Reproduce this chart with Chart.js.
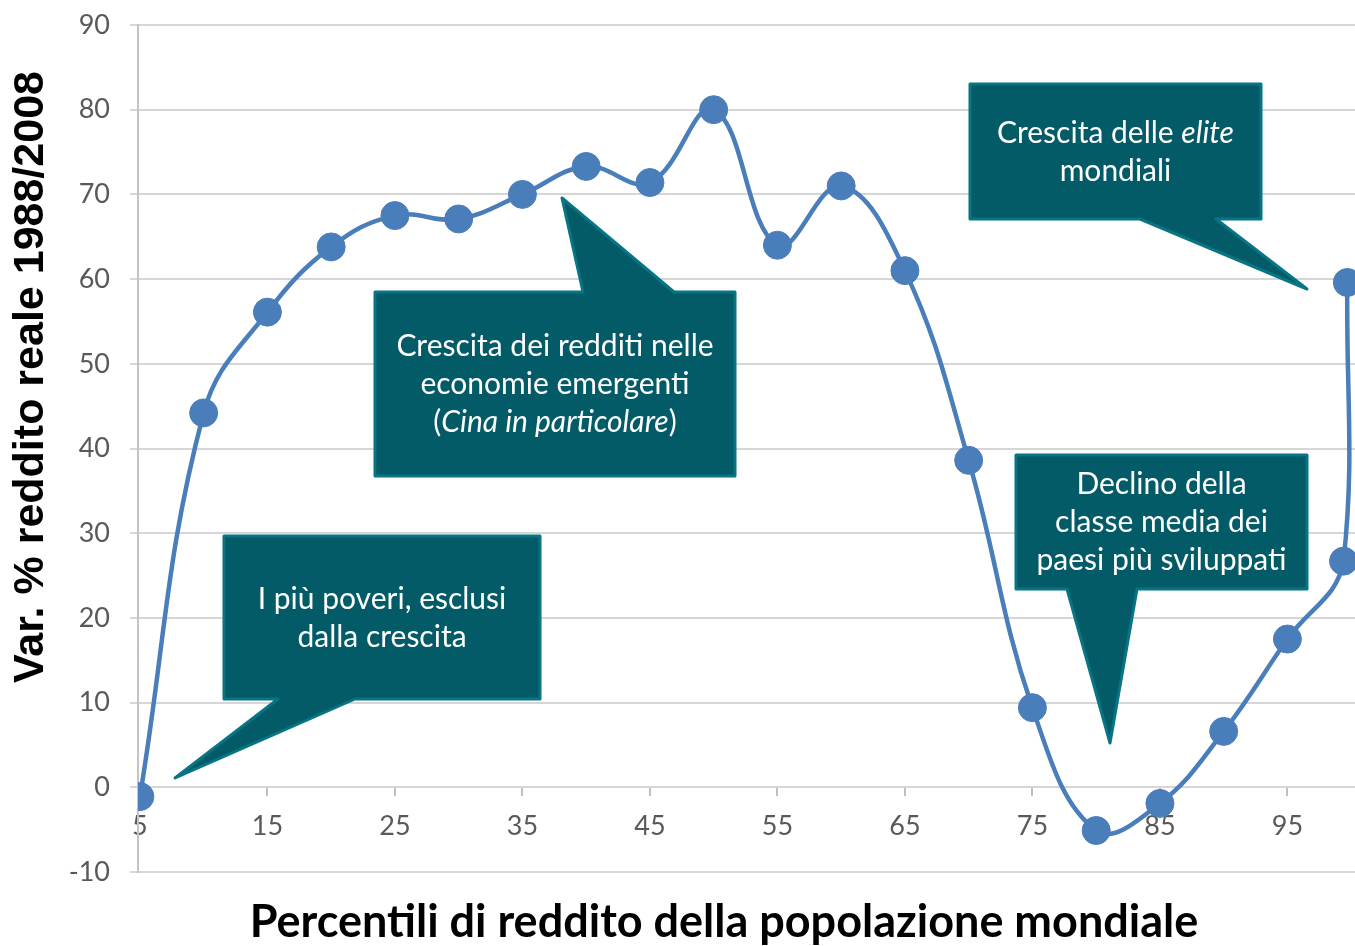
<!DOCTYPE html>
<html>
<head>
<meta charset="utf-8">
<script src="https://cdn.jsdelivr.net/npm/chart.js@4/dist/chart.umd.min.js"></script>
<style>
html, body { margin: 0; padding: 0; background: #fff; }
#wrap { width: 1355px; height: 946px; }
</style>
</head>
<body>
<div id="wrap"><canvas id="chart" width="1355" height="946"></canvas></div>
<script>
// percentili della distribuzione globale del reddito
const percentiles = [5, 10, 15, 20, 25, 30, 35, 40, 45, 50, 55, 60, 65, 70, 75, 80, 85, 90, 95, 99.4, 99.7];
// variazione % del reddito reale 1988-2008
const growth = [-1.1, 44.2, 56.1, 63.8, 67.5, 67.1, 70.0, 73.3, 71.4, 80.0, 64.0, 71.0, 61.0, 38.6, 9.4, -5.1, -1.9, 6.6, 17.5, 26.7, 59.6];
const xTicks = [5, 15, 25, 35, 45, 55, 65, 75, 85, 95];
const yMin = -10;
const yMax = 90;
const yStep = 10;

const xTitle = "Percentili di reddito della popolazione mondiale";
const yTitle = "Var. % reddito reale 1988/2008";

// callout: righe come pezzi [testo, corsivo]
const callouts = [
    {
        lines: [[["I più poveri, esclusi", false]], [["dalla crescita", false]]],
        box: [224, 536, 540, 699], side: "bottom", base: [278, 355], tip: [175, 778]
    },
    {
        lines: [[["Crescita dei redditi nelle", false]], [["economie emergenti", false]],
                [["(", false], ["Cina in particolare", true], [")", false]]],
        box: [375, 292, 735, 476], side: "top", base: [583, 674], tip: [562, 198]
    },
    {
        lines: [[["Crescita delle ", false], ["elite", true]], [["mondiali", false]]],
        box: [970, 84, 1261, 219], side: "bottom", base: [1140, 1216], tip: [1307, 289]
    },
    {
        lines: [[["Declino della", false]], [["classe media dei", false]], [["paesi più sviluppati", false]]],
        box: [1016, 455, 1307, 589], side: "bottom", base: [1067, 1137], tip: [1110, 743]
    }
];

const BLUE = "rgb(74,126,187)";
const GRID = "#d6d6d6";

const calloutPlugin = {
    id: "callouts",
    afterDraw(chart) {
        const ctx = chart.ctx;
        ctx.save();

        callouts.forEach(c => {
            const [l, t, r, b] = c.box;
            ctx.beginPath();
            if (c.side === "bottom") {
                ctx.moveTo(l, t);
                ctx.lineTo(r, t);
                ctx.lineTo(r, b);
                ctx.lineTo(c.base[1], b);
                ctx.lineTo(c.tip[0], c.tip[1]);
                ctx.lineTo(c.base[0], b);
                ctx.lineTo(l, b);
            } else {
                ctx.moveTo(l, t);
                ctx.lineTo(c.base[0], t);
                ctx.lineTo(c.tip[0], c.tip[1]);
                ctx.lineTo(c.base[1], t);
                ctx.lineTo(r, t);
                ctx.lineTo(r, b);
                ctx.lineTo(l, b);
            }
            ctx.closePath();
            ctx.fillStyle = "#025b67";
            ctx.fill();
            ctx.lineJoin = "round";
            ctx.lineWidth = 3;
            ctx.strokeStyle = "#077584";
            ctx.stroke();

            const cx = (l + r) / 2;
            const cy = (t + b) / 2;
            const lh = 38;
            const y0 = cy - (c.lines.length - 1) * lh / 2;
            ctx.fillStyle = "#ffffff";
            ctx.textBaseline = "alphabetic";
            ctx.textAlign = "left";
            c.lines.forEach((pieces, i) => {
                let total = 0;
                pieces.forEach(p => {
                    ctx.font = (p[1] ? "italic " : "") + "30px Lato";
                    total += ctx.measureText(p[0]).width;
                });
                let x = cx - total / 2;
                const y = y0 + i * lh + 10;
                pieces.forEach(p => {
                    ctx.font = (p[1] ? "italic " : "") + "30px Lato";
                    ctx.fillText(p[0], x, y);
                    x += ctx.measureText(p[0]).width;
                });
            });
        });

        // titoli degli assi
        ctx.fillStyle = "#000";
        ctx.textAlign = "center";
        ctx.textBaseline = "alphabetic";
        ctx.font = "bold 45px Lato";
        ctx.fillText(xTitle, 724, 937);

        ctx.translate(43, 377);
        ctx.rotate(-Math.PI / 2);
        ctx.font = "bold 43px 'Liberation Sans'";
        ctx.fillText(yTitle, 0, 0);

        ctx.restore();
    }
};

const points = percentiles.map((p, i) => ({ x: p, y: growth[i] }));

const config = {
    type: "line",
    data: {
        datasets: [{
            data: points,
            borderColor: BLUE,
            backgroundColor: BLUE,
            borderWidth: 4.5,
            pointRadius: 14,
            pointBorderWidth: 1,
            pointBorderColor: BLUE,
            pointBackgroundColor: BLUE,
            tension: 0.4,
            fill: false
        }]
    },
    options: {
        responsive: false,
        animation: false,
        events: [],
        layout: { autoPadding: false, padding: { top: 25, bottom: 74, left: 0, right: 0 } },
        plugins: {
            legend: { display: false },
            title: { display: false },
            tooltip: { enabled: false }
        },
        scales: {
            x: {
                type: "linear",
                position: { y: 0 },
                min: 4.85,
                max: 100.3,
                afterBuildTicks: (scale) => {
                    scale.ticks = xTicks.map(v => ({ value: v }));
                },
                grid: {
                    drawOnChartArea: false,
                    drawTicks: true,
                    tickLength: 8,
                    color: "#bfbfbf",
                    lineWidth: 2
                },
                border: { display: true, color: GRID, width: 2 },
                ticks: {
                    color: "#595959",
                    font: { family: "Lato", size: 27 },
                    padding: 15,
                    maxRotation: 0,
                    autoSkip: false
                }
            },
            y: {
                min: yMin,
                max: yMax,
                afterFit: (scale) => {
                    scale.width = 138;
                    scale.paddingTop = 0;
                    scale.paddingBottom = 0;
                },
                grid: {
                    color: GRID,
                    lineWidth: 2,
                    tickLength: 8
                },
                border: { display: true, color: "#c4c4c4", width: 2 },
                ticks: {
                    stepSize: yStep,
                    color: "#595959",
                    font: { family: "Lato", size: 27 },
                    padding: 20
                }
            }
        }
    },
    plugins: [calloutPlugin]
};

const myChart = new Chart(document.getElementById("chart"), config);
</script>
</body>
</html>
